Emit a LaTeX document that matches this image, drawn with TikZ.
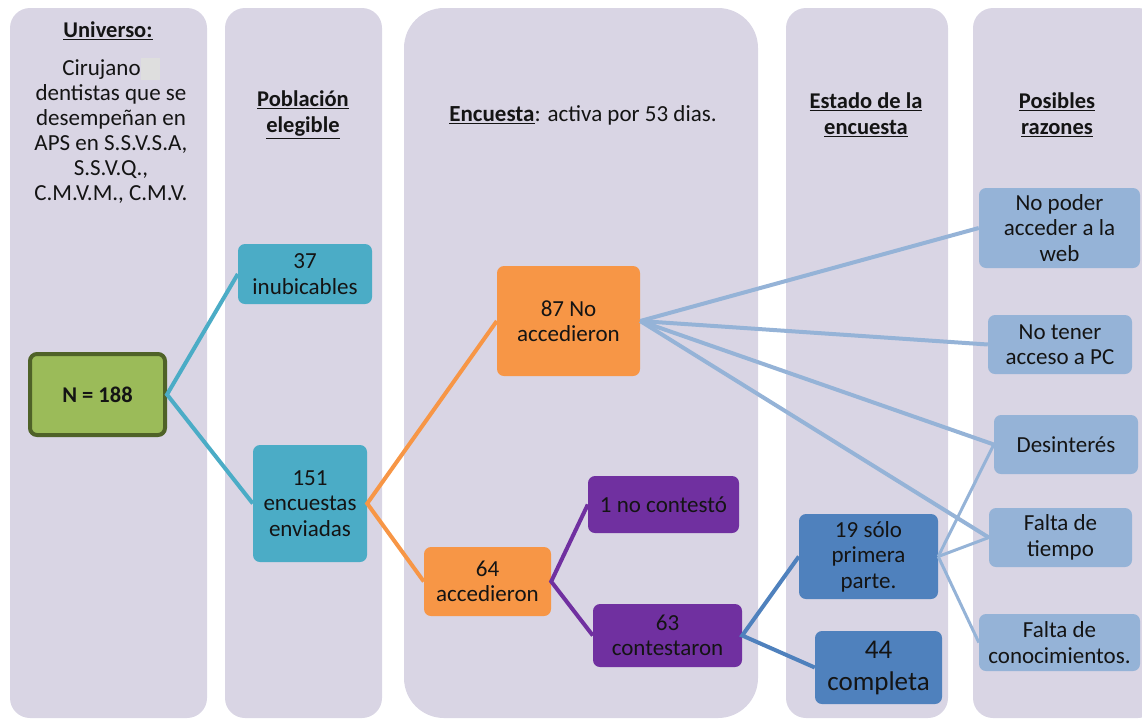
\documentclass[tikz,border=0pt]{standalone}
\usepackage{fontspec}
\setmainfont{Carlito}
\definecolor{panelc}{RGB}{217,213,228}
\definecolor{tealc}{RGB}{75,172,198}
\definecolor{greenc}{RGB}{155,187,89}
\definecolor{greendk}{RGB}{79,98,40}
\definecolor{orangec}{RGB}{247,150,70}
\definecolor{purplec}{RGB}{112,48,160}
\definecolor{bluec}{RGB}{79,129,189}
\definecolor{lbluec}{RGB}{149,179,215}
\definecolor{boxgray}{RGB}{222,222,222}
\definecolor{txt}{RGB}{20,20,20}
\begin{document}
\begin{tikzpicture}[x=1pt,y=-1pt,
  every node/.style={font=\fontsize{23}{25.5}\selectfont, align=center, inner sep=0pt, text=txt},
  panel/.style={fill=panelc, rounded corners=20pt},
  box/.style={rounded corners=7pt},
  head/.style={font=\bfseries\fontsize{22.5}{26}\selectfont},
  link/.style={line width=4pt},
  thinlink/.style={line width=3pt}]
\useasboundingbox (0,0) rectangle (1142,718);
% panels
\node[panel, minimum width=197pt, minimum height=710pt] (p1) at (108.5,363) {};
\node[panel, minimum width=157pt, minimum height=710pt] (p2) at (303.5,363) {};
\node[panel, rounded corners=40pt, minimum width=354pt, minimum height=710pt] (p3) at (581,363) {};
\node[panel, minimum width=162pt, minimum height=710pt] (p4) at (867,363) {};
\node[panel, minimum width=185pt, minimum height=710pt] (p5) at (1065.5,363) {};
% headers
\node[head] (h1) at (108,31) {\underline{Universo:}};
\node[font=\fontsize{23}{25}\selectfont] (h1t) at (111,130.5) {Cirujano\textcolor{boxgray}{\rule[-4pt]{19pt}{22pt}}\\dentistas que se\\desempe\~nan en\\APS en S.S.V.S.A,\\S.S.V.Q.,\\C.M.V.M., C.M.V.};
\node[head] (h2) at (303,115) {\underline{Población}\\\underline{elegible}};
\node (h3) at (583,115) {\textbf{\underline{Encuesta}}: activa por 53 dias.};
\node[head] (h4) at (866,115) {\underline{Estado de la}\\\underline{encuesta}};
\node[head] (h5) at (1057,115) {\underline{Posibles}\\\underline{razones}};
% nodes
\node[box, fill=greenc, draw=greendk, line width=4pt, minimum width=135pt, minimum height=81pt, font=\bfseries\fontsize{22.5}{25}\selectfont] (n) at (97.5,394.5) {N = 188};
\node[box, fill=tealc, minimum width=134pt, minimum height=60pt] (inub) at (305,274) {37\\inubicables};
\node[box, fill=tealc, minimum width=114pt, minimum height=117pt] (env) at (310,503.5) {151\\encuestas\\enviadas};
\node[box, fill=orangec, minimum width=143pt, minimum height=110pt] (noacc) at (568.5,321) {87 No\\accedieron};
\node[box, fill=orangec, minimum width=127pt, minimum height=69pt] (acc) at (487.5,581.5) {64\\accedieron};
\node[box, fill=purplec, minimum width=151pt, minimum height=57pt] (nocont) at (663.5,504.5) {1 no contestó};
\node[box, fill=purplec, minimum width=149pt, minimum height=63pt] (cont) at (667.5,635.5) {63\\contestaron};
\node[box, fill=bluec, minimum width=139pt, minimum height=85pt] (prim) at (868.5,556.5) {19 sólo\\primera\\parte.};
\node[box, fill=bluec, minimum width=127pt, minimum height=73pt, font=\fontsize{27}{32}\selectfont] (comp) at (878.5,667.5) {44\\completa};
\node[box, fill=lbluec, minimum width=161pt, minimum height=80pt] (web) at (1059.5,228) {No poder\\acceder a la\\web};
\node[box, fill=lbluec, minimum width=144pt, minimum height=59pt] (pc) at (1060,344.5) {No tener\\acceso a PC};
\node[box, fill=lbluec, minimum width=144pt, minimum height=59pt] (des) at (1066,444.5) {Desinterés};
\node[box, fill=lbluec, minimum width=143pt, minimum height=59pt] (tiem) at (1060.5,537.5) {Falta de\\tiempo};
\node[box, fill=lbluec, minimum width=161pt, minimum height=57pt] (conoc) at (1059.5,642.5) {Falta de\\conocimientos.};
% connectors
\draw[link, tealc] (inub.west) -- (n.east) -- (env.west);
\draw[link, orangec] (noacc.west) -- (env.east) -- (acc.west);
\draw[link, purplec] (nocont.west) -- (acc.east) -- (cont.west);
\draw[link, bluec] (prim.west) -- (cont.east) -- (comp.west);
\draw[link, lbluec] (noacc.east) -- (web.west);
\draw[link, lbluec] (noacc.east) -- (pc.west);
\draw[link, lbluec] (noacc.east) -- (des.west);
\draw[link, lbluec] (noacc.east) -- (tiem.west);
\draw[thinlink, lbluec] (prim.east) -- (des.west);
\draw[thinlink, lbluec] (prim.east) -- (tiem.west);
\draw[thinlink, lbluec] (prim.east) -- (conoc.west);
\end{tikzpicture}
\end{document}
